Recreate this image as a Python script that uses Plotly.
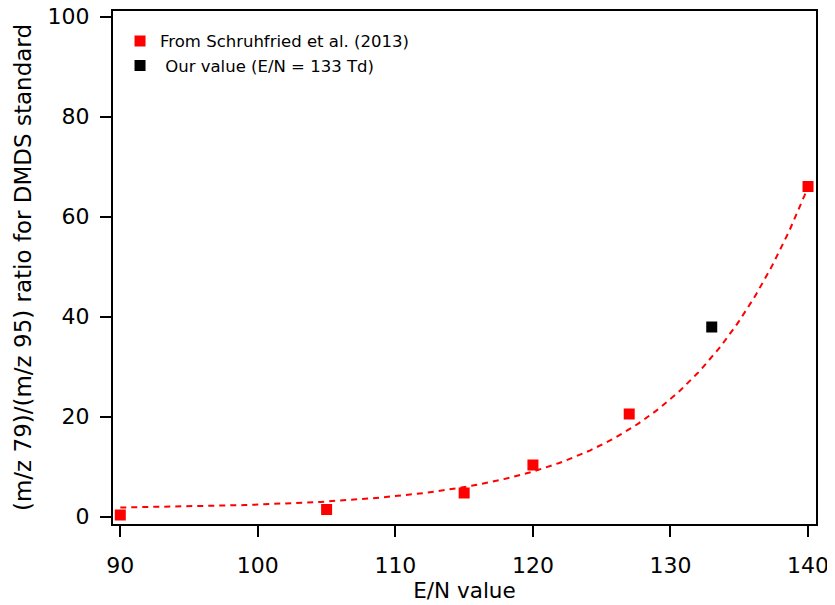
import numpy as np
import plotly.graph_objects as go

# Data
lit_en = [90, 105, 115, 120, 127, 140]
lit_ratio = [0.3, 1.4, 4.7, 10.3, 20.5, 66.0]
our_en = [133]
our_ratio = [37.9]

# Exponential fit parameters: y = y0 + A*exp(k*(x - x0))
fit_y0 = 1.5
fit_A = 0.297
fit_k = 0.1076
fit_x0 = 90

x_ticks = [90, 100, 110, 120, 130, 140]
y_ticks = [0, 20, 40, 60, 80, 100]

fit_x = np.linspace(min(lit_en), max(lit_en), 200)
fit_y = fit_y0 + fit_A * np.exp(fit_k * (fit_x - fit_x0))

FONT = "DejaVu Sans"

fig = go.Figure()
fig.add_trace(go.Scatter(
    x=fit_x, y=fit_y, mode="lines",
    line=dict(color="#ff0000", width=2, dash="6px,5px"),
    showlegend=False, hoverinfo="skip"))
fig.add_trace(go.Scatter(
    x=lit_en, y=lit_ratio, mode="markers",
    marker=dict(symbol="square", size=11, color="#ff0000"),
    name="From Schruhfried et al. (2013)"))
fig.add_trace(go.Scatter(
    x=our_en, y=our_ratio, mode="markers",
    marker=dict(symbol="square", size=11, color="#000000"),
    name=" Our value (E/N = 133 Td)"))

axis_common = dict(
    showgrid=False, zeroline=False, showline=True, linecolor="black",
    linewidth=2, mirror=True, ticks="outside", ticklen=11, tickwidth=2,
    tickcolor="black", tickfont=dict(family=FONT, size=22, color="black"),
    automargin=False, ticklabeloverflow="allow",
)

fig.update_layout(
    width=827, height=597,
    margin=dict(l=105, r=19, t=3, b=81),
    paper_bgcolor="white", plot_bgcolor="white",
    font=dict(family=FONT, color="black"),
    xaxis=dict(range=[89.47, 140.58], tickvals=x_ticks, ticklabelstandoff=10,
               title=dict(text="E/N value", font=dict(family=FONT, size=21.5), standoff=4),
               **axis_common),
    yaxis=dict(range=[-1.5, 101.1], tickvals=y_ticks, ticklabelstandoff=6,
               title=dict(text="(m/z 79)/(m/z 95) ratio for DMDS standard",
                          font=dict(family=FONT, size=23), standoff=10),
               **axis_common),
    legend=dict(x=0.01, y=0.975, xanchor="left", yanchor="top",
                bgcolor="rgba(0,0,0,0)", font=dict(family=FONT, size=16.5),
                tracegroupgap=0, itemwidth=30),
)

fig.write_html("out.html")
